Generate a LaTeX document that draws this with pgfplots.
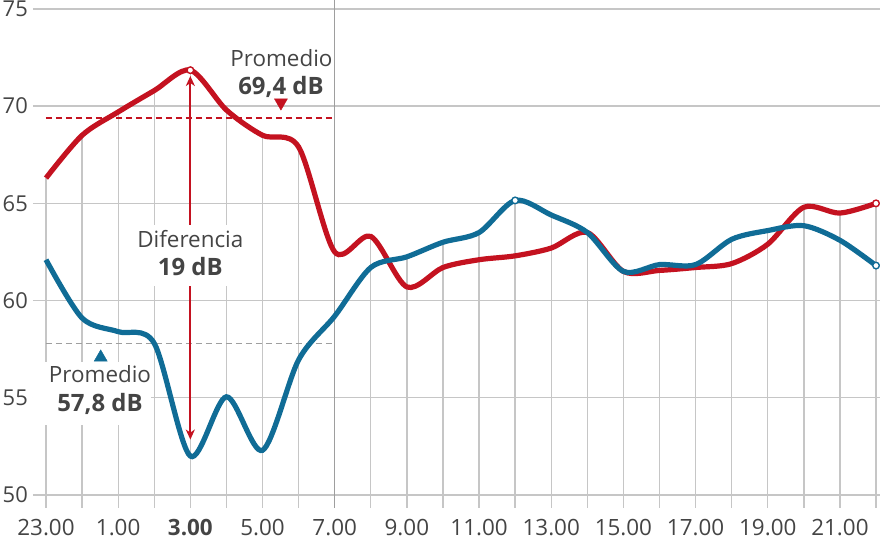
\documentclass[border=0pt]{standalone}
\usepackage{pgfplots}
\pgfplotsset{compat=1.18}
\usetikzlibrary{arrows.meta}
\usepackage{fontspec}
\setmainfont{Open Sans}
\definecolor{cred}{RGB}{196,18,32}
\definecolor{cblue}{RGB}{16,108,150}
\definecolor{gridc}{RGB}{198,198,198}
\definecolor{txt}{RGB}{68,68,68}
\begin{document}
\begin{tikzpicture}
\begin{axis}[
  name=ax,
  scale only axis,
  width=847bp, height=508bp,
  xmin=-0.36, xmax=23.11,
  ymin=49.33, ymax=75.46,
  axis line style={draw=none},
  tick style={draw=none},
  ytick={50,55,60,65,70,75},
  yticklabels={50,55,60,65,70,75},
  ymajorgrids,
  grid style={gridc, line width=1.3bp},
  xtick={0,2,...,22},
  xticklabels={23.00,1.00,\textbf{3.00},5.00,7.00,9.00,11.00,13.00,15.00,17.00,19.00,21.00},
  xticklabel style={anchor=north, inner sep=0pt, yshift=-11bp, font=\fontsize{22.5}{26}\selectfont, text=txt},
  yticklabel style={anchor=east, inner sep=0pt, xshift=-5bp, font=\fontsize{22}{26}\selectfont, text=txt},
  clip=true,
]
% vertical grid lines up to the upper curve
\addplot[ycomb, gridc, line width=1.3bp, mark=none] coordinates {
(0,66.3)(1,68.5)(2,69.7)(3,70.8)(4,71.85)(5,69.8)(6,68.5)(7,67.9)(8,62.5)(9,63.3)(10,62.25)(11,63.0)(12,63.5)(13,65.15)(14,64.4)(15,63.5)(16,61.5)(17,61.85)(18,61.85)(19,63.15)(20,63.6)(21,64.8)(22,64.5)(23,65.0)};
\addplot[gridc!80!black, line width=1.3bp, mark=none] coordinates {(8,40)(8,80)};
% averages
\draw[cred, line width=1.4bp, dash pattern=on 6bp off 4bp] (axis cs:0,69.4) -- (axis cs:8,69.4);
\draw[gray!75, line width=1.2bp, dash pattern=on 6bp off 4bp] (axis cs:0,57.8) -- (axis cs:8,57.8);
% difference arrow
\draw[cred, line width=2bp, {Stealth[length=10bp,width=9bp,inset=3bp]}-{Stealth[length=10bp,width=9bp,inset=3bp]}] (axis cs:4,71.55) -- (axis cs:4,52.85);
% white boxes
\fill[white] (axis cs:2.3,63.89) rectangle (axis cs:5.7,60.75);
\fill[white] (axis cs:-0.36,56.84) rectangle (axis cs:2.91,53.60);
% triangles
\addplot[only marks, mark=triangle*, mark size=7.5bp, cred, mark options={rotate=180}] coordinates {(6.51,70.18)};
\addplot[only marks, mark=triangle*, mark size=7.5bp, cblue] coordinates {(1.516,57.08)};
% texts
\node[anchor=base, text=txt, font=\fontsize{22.5}{26}\selectfont, inner sep=0pt] at (axis cs:6.525,72.03) {Promedio};
\node[anchor=base, text=txt, font=\fontsize{24}{28}\selectfont\bfseries, inner sep=0pt] at (axis cs:6.51,70.58) {69,4 dB};
\node[anchor=base, text=txt, font=\fontsize{22.5}{26}\selectfont, inner sep=0pt] at (axis cs:1.496,55.76) {Promedio};
\node[anchor=base, text=txt, font=\fontsize{24}{28}\selectfont\bfseries, inner sep=0pt] at (axis cs:1.496,54.27) {57,8 dB};
\node[anchor=base, text=txt, font=\fontsize{22.5}{26}\selectfont, inner sep=0pt] at (axis cs:4,62.71) {Diferencia};
\node[anchor=base, text=txt, font=\fontsize{24}{28}\selectfont\bfseries, inner sep=0pt] at (axis cs:4,61.27) {19 dB};
% curves
\addplot[cred, line width=5.2bp, smooth, tension=0.5, mark=none] coordinates {
(0,66.3)(1,68.5)(2,69.7)(3,70.8)(4,71.85)(5,69.8)(6,68.5)(7,67.9)(8,62.5)(9,63.3)(10,60.7)(11,61.7)(12,62.1)(13,62.3)(14,62.7)(15,63.5)(16,61.5)(17,61.55)(18,61.7)(19,61.9)(20,62.9)(21,64.8)(22,64.5)(23,65.0)};
\addplot[cblue, line width=5.2bp, smooth, tension=0.5, mark=none] coordinates {
(0,62.1)(1,59.1)(2,58.4)(3,57.8)(4,52.0)(5,55.05)(6,52.3)(7,56.95)(8,59.2)(9,61.7)(10,62.25)(11,63.0)(12,63.5)(13,65.15)(14,64.4)(15,63.5)(16,61.5)(17,61.85)(18,61.85)(19,63.15)(20,63.6)(21,63.85)(22,63.1)(23,61.8)};
% end markers
\addplot[only marks, mark=*, mark size=3.3bp, cred, mark options={fill=white, line width=1.4bp}] coordinates {(4,71.85)(23,65.0)};
\addplot[only marks, mark=*, mark size=3.3bp, cblue, mark options={fill=white, line width=1.4bp}] coordinates {(13,65.15)(23,61.8)};
\end{axis}
\pgfresetboundingbox
\path[use as bounding box] ([xshift=-33bp,yshift=-32bp]ax.south west) rectangle (ax.north east);
\end{tikzpicture}
\end{document}
